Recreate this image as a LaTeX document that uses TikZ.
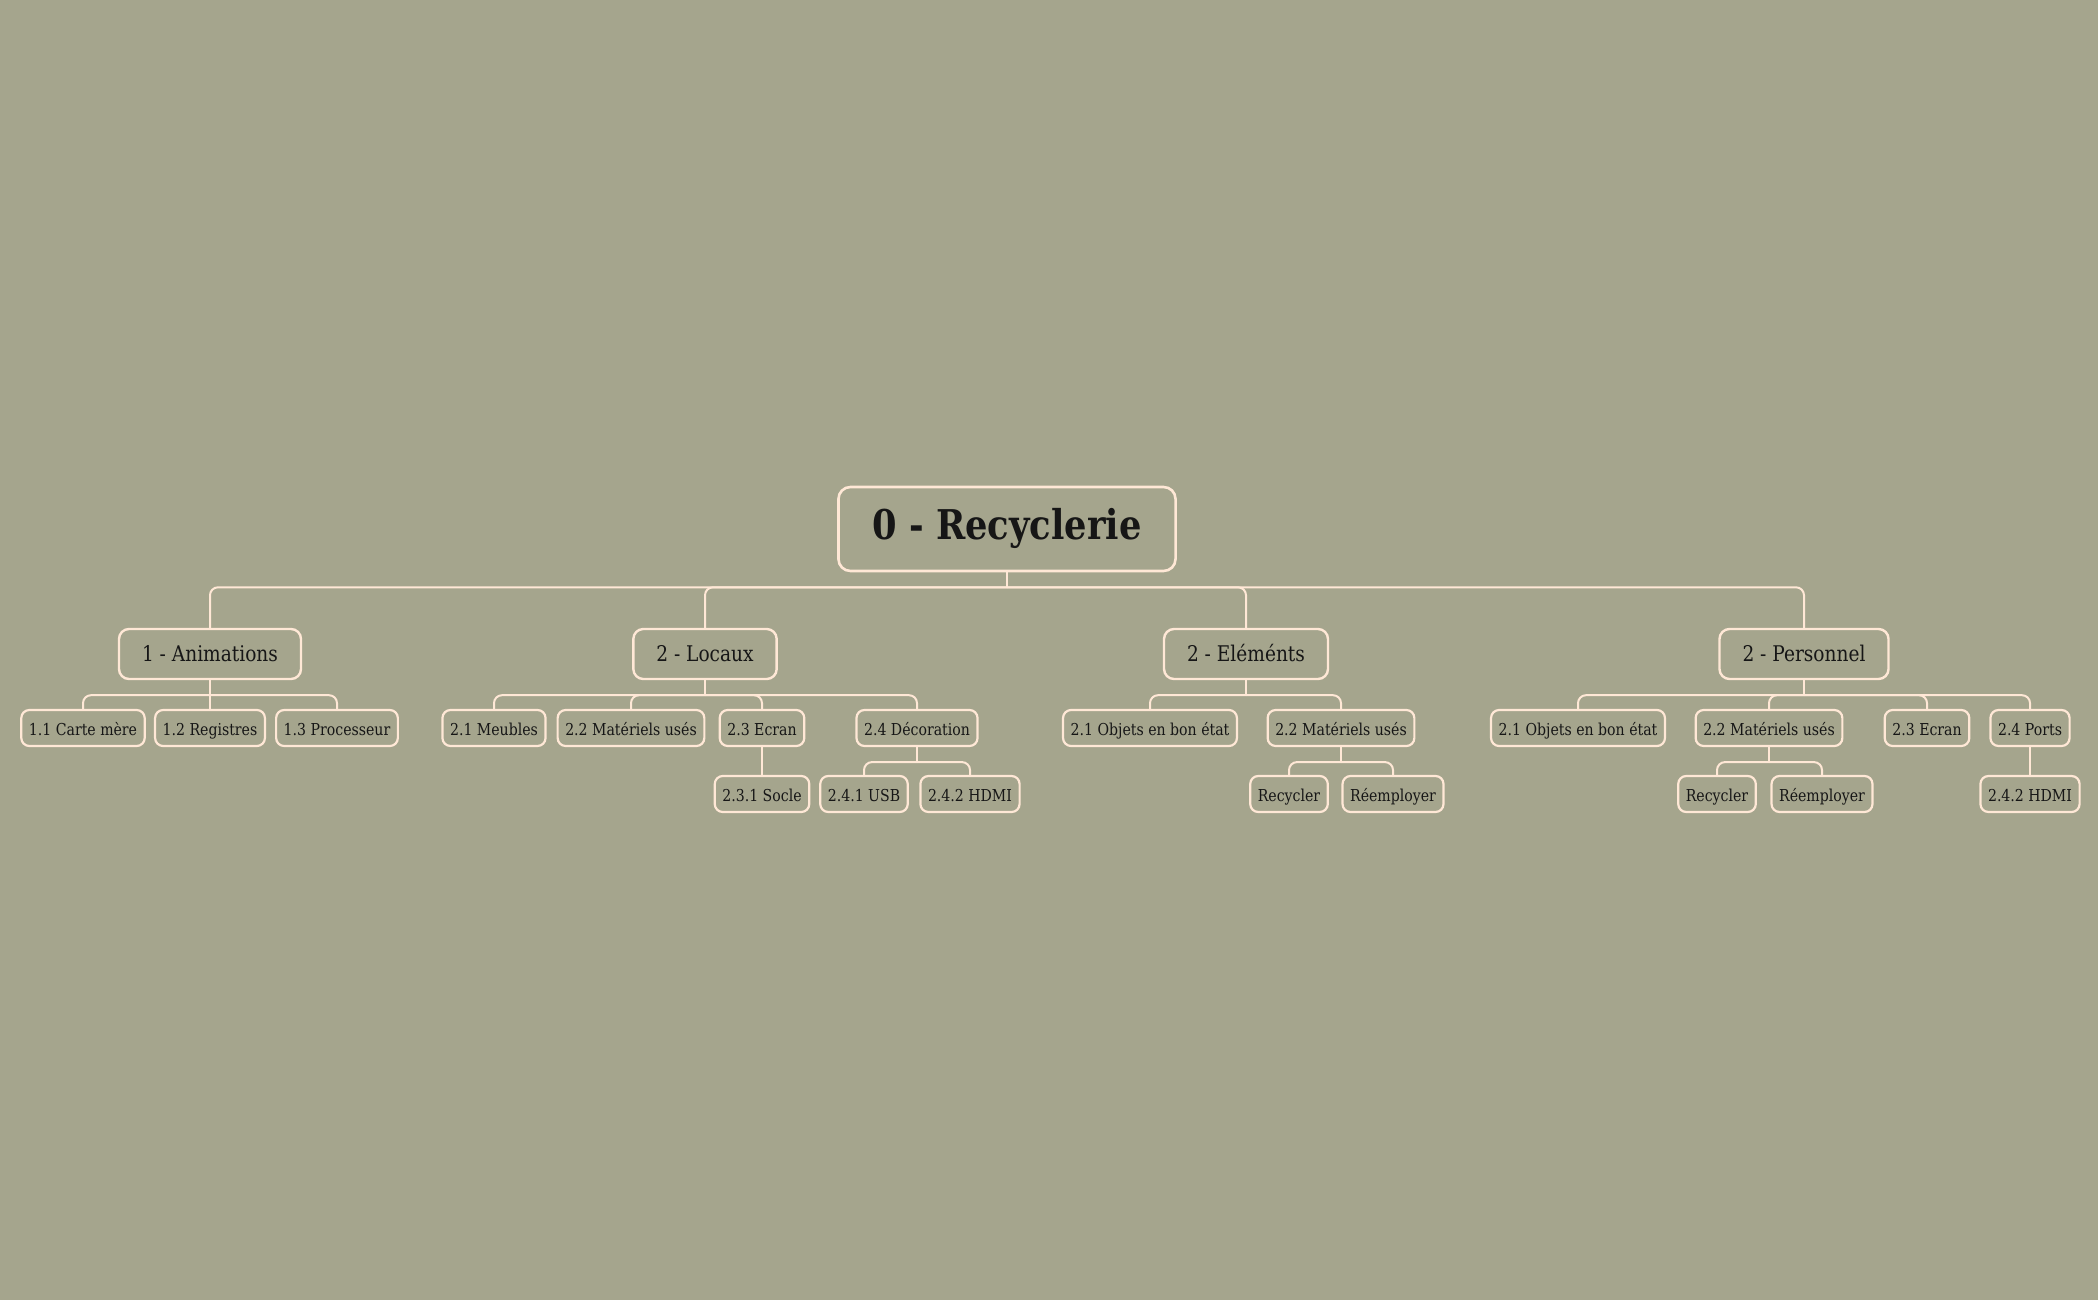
\documentclass[tikz,border=0pt]{standalone}
\usepackage{fontspec}
\setmainfont{DejaVu Serif}[FakeStretch=0.86]
\usepackage{tikz}
\usepackage{xcolor}
\definecolor{sage}{HTML}{A5A58D}
\definecolor{cream}{HTML}{FFE8D6}
\definecolor{ink}{HTML}{161616}
\tikzset{
  rootbox/.style={draw=cream, line width=1.3pt, rounded corners=6pt, text=ink,
    font=\fontsize{20.5}{24}\bfseries\selectfont, inner xsep=17pt, inner ysep=0pt,
    text height=1.2em, text depth=0.2em, minimum height=42pt},
  mainbox/.style={draw=cream, line width=1.2pt, rounded corners=5pt, text=ink,
    font=\fontsize{10.8}{13}\selectfont, inner xsep=11.5pt, inner ysep=0pt,
    text height=0.95em, text depth=0.2em, minimum height=25pt},
  subbox/.style={draw=cream, line width=1.1pt, rounded corners=4pt, text=ink,
    font=\fontsize{8.2}{10}\selectfont, inner xsep=3.8pt, inner ysep=0pt,
    text height=0.95em, text depth=0.2em, minimum height=18pt},
  link/.style={draw=cream, line width=1pt},
  elbow/.style={link, rounded corners=4pt}
}
\begin{document}
\begin{tikzpicture}[x=0.5pt, y=-0.5pt]
\fill [sage] (0,0) rectangle (2098,1300);
% top
\node [rootbox] (root) at (1007,529) {0 - Recyclerie};
\node [mainbox] (anim) at (210,654) {1 - Animations};
\node [mainbox] (loc) at (705,654) {2 - Locaux};
\node [mainbox] (elem) at (1246,654) {2 - Eléménts};
\node [mainbox] (pers) at (1804,654) {2 - Personnel};
% second row
\node [subbox] (a1) at (83,728) {1.1 Carte mère};
\node [subbox] (a2) at (210,728) {1.2 Registres};
\node [subbox] (a3) at (337,728) {1.3 Processeur};
\node [subbox] (l1) at (494,728) {2.1 Meubles};
\node [subbox] (l2) at (631,728) {2.2 Matériels usés};
\node [subbox] (l3) at (762,728) {2.3 Ecran};
\node [subbox] (l4) at (917,728) {2.4 Décoration};
\node [subbox] (e1) at (1150,728) {2.1 Objets en bon état};
\node [subbox] (e2) at (1341,728) {2.2 Matériels usés};
\node [subbox] (p1) at (1578,728) {2.1 Objets en bon état};
\node [subbox] (p2) at (1769,728) {2.2 Matériels usés};
\node [subbox] (p3) at (1927,728) {2.3 Ecran};
\node [subbox] (p4) at (2030,728) {2.4 Ports};
% third row
\node [subbox] (l31) at (762,794) {2.3.1 Socle};
\node [subbox] (l41) at (864,794) {2.4.1 USB};
\node [subbox] (l42) at (970,794) {2.4.2 HDMI};
\node [subbox] (e21) at (1289,794) {Recycler};
\node [subbox] (e22) at (1393,794) {Réemployer};
\node [subbox] (p21) at (1717,794) {Recycler};
\node [subbox] (p22) at (1822,794) {Réemployer};
\node [subbox] (p41) at (2030,794) {2.4.2 HDMI};
% links
\draw [link] (root.south) -- ++(0,15) coordinate (b0);
\draw [elbow] (b0) -| (anim.north);
\draw [elbow] (b0) -| (loc.north);
\draw [elbow] (b0) -| (elem.north);
\draw [elbow] (b0) -| (pers.north);
\draw [link] (anim.south) -- ++(0,15) coordinate (b1);
\draw [elbow] (b1) -| (a1.north);
\draw [elbow] (b1) -| (a2.north);
\draw [elbow] (b1) -| (a3.north);
\draw [link] (loc.south) -- ++(0,15) coordinate (b2);
\draw [elbow] (b2) -| (l1.north);
\draw [elbow] (b2) -| (l2.north);
\draw [elbow] (b2) -| (l3.north);
\draw [elbow] (b2) -| (l4.north);
\draw [link] (elem.south) -- ++(0,15) coordinate (b3);
\draw [elbow] (b3) -| (e1.north);
\draw [elbow] (b3) -| (e2.north);
\draw [link] (pers.south) -- ++(0,15) coordinate (b4);
\draw [elbow] (b4) -| (p1.north);
\draw [elbow] (b4) -| (p2.north);
\draw [elbow] (b4) -| (p3.north);
\draw [elbow] (b4) -| (p4.north);
\draw [link] (l3.south) -- (l31.north);
\draw [link] (l4.south) -- ++(0,15) coordinate (b5);
\draw [elbow] (b5) -| (l41.north);
\draw [elbow] (b5) -| (l42.north);
\draw [link] (e2.south) -- ++(0,15) coordinate (b6);
\draw [elbow] (b6) -| (e21.north);
\draw [elbow] (b6) -| (e22.north);
\draw [link] (p2.south) -- ++(0,15) coordinate (b7);
\draw [elbow] (b7) -| (p21.north);
\draw [elbow] (b7) -| (p22.north);
\draw [link] (p4.south) -- (p41.north);
\end{tikzpicture}
\end{document}
